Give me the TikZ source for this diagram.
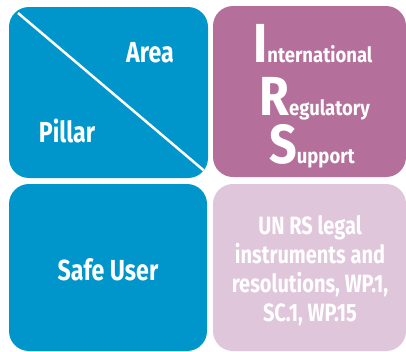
\documentclass[tikz,border=0pt]{standalone}
\usepackage{fontspec}
\setmainfont{Fira Sans}[FakeStretch=0.8]
\newfontfamily\irsfont{Fira Sans}[FakeStretch=0.88]
\usepackage{tikz}
\definecolor{pillarblue}{RGB}{0,150,204}
\definecolor{irspurple}{RGB}{180,112,154}
\definecolor{instrpink}{RGB}{223,198,219}
\newcommand{\biginit}[1]{{\fontsize{55}{55}\selectfont #1}}
\tikzset{
	panel/.style={rounded corners=20pt},
	paneltext/.style={text=white, inner sep=0pt, font=\bfseries\fontsize{29}{29}\selectfont},
	irstext/.style={text=white, inner sep=0pt, font=\irsfont\bfseries\fontsize{21}{21}\selectfont},
	instrtext/.style={text=white, inner sep=0pt, align=center, font=\bfseries\fontsize{25}{29}\selectfont}
}

\begin{document}
\begin{tikzpicture}[x=1pt, y=-1pt]
		\useasboundingbox (0,0) rectangle (406,351);
		%%%%% PANELS %%%%%
		\fill[pillarblue, panel] (9,7) rectangle (208,178);
		\fill[irspurple, panel] (213,6) rectangle (406,177);
		\fill[pillarblue, panel] (9,184) rectangle (207,351);
		\fill[instrpink, panel] (213,184) rectangle (406,351);
		
		\begin{scope}
			\clip[panel] (9,7) rectangle (208,178);
			\draw[white, line width=2.5pt] (18,13) -- (208,174);
		\end{scope}
		
		%%%%% TEXT %%%%%
		\node[paneltext, anchor=base] (area) at (150,62) {Area};
		\node[paneltext, anchor=base] (pillar) at (67,142) {Pillar};
		\node[paneltext, anchor=base] (safe) at (108,280) {Safe User};
		
		\node[irstext, anchor=base west] (intl) at (253,62) {\biginit{I}nternational};
		\node[irstext, anchor=base west] (reg) at (259,115) {\biginit{R}egulatory};
		\node[irstext, anchor=base west] (supp) at (269,163) {\biginit{S}upport};
		
		\node[instrtext] (instr) at (310,271) {UN RS legal\\instruments and\\resolutions, WP.1,\\SC.1, WP.15};
	\end{tikzpicture}
\end{document}
